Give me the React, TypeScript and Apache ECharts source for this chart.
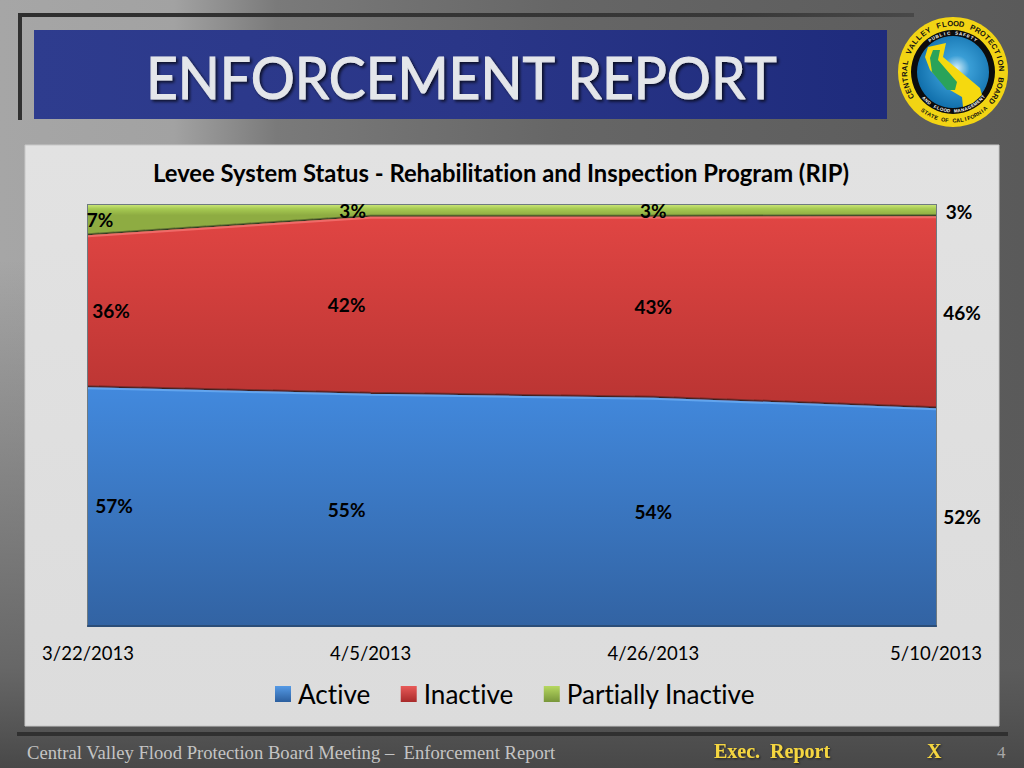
import React, { useEffect, useRef } from "react";
import * as echarts from "echarts";

const dates = ["3/22/2013", "4/5/2013", "4/26/2013", "5/10/2013"];
const active = [56.5, 54.9, 54.0, 51.5];
const inactive = [36.1, 42.1, 43.0, 45.6];
const partiallyInactive = [7.4, 3.0, 3.0, 2.9];

const activeLabelOffsets = [[26, 117], [-24, 115], [0, 113], [26, 107]];
const inactiveLabelOffsets = [[23, 74], [-24, 87], [0, 89], [26, 95]];
const partialLabelOffsets = [[12, 14], [-18, 5], [0, 5], [23, 6]];

const vGrad = (a: string, b: string) => ({
  type: "linear", x: 0, y: 0, x2: 0, y2: 1,
  colorStops: [{ offset: 0, color: a }, { offset: 1, color: b }],
});
const grad = (x: number, y: number, x2: number, y2: number, stops: [number, string][]) => ({
  type: "linear", x, y, x2, y2,
  colorStops: stops.map(([offset, color]) => ({ offset, color })),
});

const arcText = (text: string, cx: number, cy: number, r: number, startDeg: number, stepDeg: number, font: string, fill: string, bottom = false) =>
  text.split("").map((ch, i) => {
    const deg = startDeg + i * stepDeg;
    const a = (deg * Math.PI) / 180;
    return {
      type: "text",
      x: cx + r * Math.sin(a),
      y: cy - r * Math.cos(a),
      rotation: bottom ? -(a + Math.PI) : -a,
      z: 20,
      silent: true,
      style: { text: ch, font, fill, align: "center", verticalAlign: "middle" },
    };
  });

const californiaOutline = [[928, 47], [946, 43], [943, 57], [980, 88], [982, 95], [973, 103], [963, 107], [962, 97], [950, 90], [930, 70], [925, 57]];
const centralValley = [[933, 50], [940, 50], [938, 60], [957, 82], [955, 90], [947, 90], [932, 72], [930, 58]];

const yellowText = { fill: "#f5d640", verticalAlign: "middle", textShadowColor: "rgba(0,0,0,0.6)", textShadowBlur: 2, textShadowOffsetX: 1, textShadowOffsetY: 1 };

const buildGraphic = () => [
  { type: "rect", z: 0, silent: true, shape: { x: 0, y: 0, width: 1024, height: 768 },
    style: { fill: grad(0, 0, 1, 0, [[0, "#a6a6a6"], [0.17, "#a2a2a2"], [0.27, "#7a7a7a"], [0.55, "#666666"], [1, "#5a5a5a"]]) } },
  { type: "rect", z: 0, silent: true, shape: { x: 0, y: 260, width: 1024, height: 508 },
    style: { fill: grad(0, 0, 0, 1, [[0, "rgba(90,90,90,0)"], [0.8, "rgba(92,92,92,0.85)"], [1, "rgba(72,72,72,1)"]]) } },
  { type: "rect", z: 1, silent: true, shape: { x: 18, y: 13, width: 896, height: 4 },
    style: { fill: grad(0, 0, 1, 0, [[0, "#2e2e2e"], [0.8, "#383838"], [1, "#484848"]]) } },
  { type: "rect", z: 1, silent: true, shape: { x: 18, y: 13, width: 4, height: 107 }, style: { fill: "#303030" } },
  { type: "rect", z: 1, silent: true, shape: { x: 34, y: 30, width: 853, height: 89 },
    style: { fill: grad(0, 0, 1, 0, [[0, "#2e3c8e"], [0.5, "#2a3688"], [1, "#1e2b7c"]]) } },
  { type: "text", z: 2, silent: true, x: 146, y: 76, scaleX: 0.95,
    style: { text: "ENFORCEMENT REPORT", font: "58px Lato", fill: "#e4e6ea", stroke: "#e4e6ea", lineWidth: 1, verticalAlign: "middle",
      textShadowColor: "rgba(0,0,0,0.7)", textShadowBlur: 3, textShadowOffsetX: 2, textShadowOffsetY: 2 } },
  { type: "circle", z: 10, silent: true, shape: { cx: 953, cy: 72, r: 55 }, style: { fill: "#f2d414" } },
  { type: "circle", z: 11, silent: true, shape: { cx: 953, cy: 72, r: 42 }, style: { fill: "#0c0c0c" } },
  { type: "circle", z: 12, silent: true, shape: { cx: 953, cy: 72, r: 36 },
    style: { fill: { type: "radial", x: 0.55, y: 0.45, r: 0.6, colorStops: [{ offset: 0, color: "#d5eef8" }, { offset: 0.3, color: "#3a9ed6" }, { offset: 1, color: "#0d6ba8" }] } } },
  { type: "polygon", z: 13, silent: true, shape: { points: californiaOutline }, style: { fill: "#f5d90f" } },
  { type: "polygon", z: 14, silent: true, shape: { points: centralValley }, style: { fill: "#2aa35a" } },
  ...arcText("CENTRAL VALLEY FLOOD PROTECTION BOARD", 953, 72, 48.5, -120, 6.86, "bold 7.5px Liberation Sans", "#111111"),
  ...arcText("STATE OF CALIFORNIA", 953, 72, 48.5, 218, -4.4, "bold 5.5px Liberation Sans", "#111111", true),
  ...arcText("PUBLIC SAFETY", 953, 72, 39, -36, 5.9, "bold 4.5px Liberation Sans", "#ffffff"),
  ...arcText("AND FLOOD MANAGEMENT", 953, 72, 39, 228, -5.2, "bold 4.5px Liberation Sans", "#ffffff", true),
  { type: "rect", z: 1, silent: true, shape: { x: 25, y: 145, width: 974, height: 581 },
    style: { fill: grad(0, 0, 0, 1, [[0, "#e2e2e2"], [1, "#dcdcdc"]]), stroke: "#c8c8c8", lineWidth: 1 } },
  { type: "rect", z: 1, silent: true, shape: { x: 17, y: 732, width: 991, height: 4 }, style: { fill: "#303030" } },
  { type: "text", z: 2, silent: true, x: 27, y: 752,
    style: { text: "Central Valley Flood Protection Board Meeting –  Enforcement Report", font: "18.65px Liberation Serif", fill: "#c4c4c4", verticalAlign: "middle" } },
  { type: "text", z: 2, silent: true, x: 714, y: 751, style: { text: "Exec.  Report", font: "bold 20px Liberation Serif", ...yellowText } },
  { type: "text", z: 2, silent: true, x: 927, y: 751, style: { text: "X", font: "bold 20px Liberation Serif", ...yellowText } },
  { type: "text", z: 2, silent: true, x: 997, y: 752, style: { text: "4", font: "17px Liberation Serif", fill: "#a8a8a8", verticalAlign: "middle" } },
];

const makeSeries = (name: string, values: number[], fill: any, edge: string, z: number) => ({
  name,
  type: "line",
  stack: "total",
  z,
  data: values,
  symbol: "none",
  clip: false,
  lineStyle: { color: edge, width: 2, shadowColor: "rgba(30,20,20,0.8)", shadowBlur: 1, shadowOffsetY: -1.5 },
  areaStyle: { color: fill, opacity: 1 },
});

const makeLabels = (name: string, values: number[], offsets: number[][]) => ({
  name: `${name} labels`,
  type: "line",
  stack: "labels",
  z: 8,
  data: values.map((value, i) => ({ value, label: { offset: offsets[i] } })),
  symbol: "circle",
  symbolSize: 0,
  showSymbol: true,
  showAllSymbol: true,
  lineStyle: { width: 0, color: "transparent" },
  label: {
    show: true,
    position: "inside",
    color: "#000000",
    fontFamily: "Lato",
    fontWeight: "bold",
    fontSize: 19,
    formatter: (p: any) => `${Math.round(p.value)}%`,
  },
});

export default function App() {
  const ref = useRef<HTMLDivElement>(null);
  useEffect(() => {
    document.body.style.margin = "0";
    const chart = echarts.init(ref.current!, undefined, { renderer: "svg" });
    chart.setOption({
      animation: false,
      title: {
        text: "Levee System Status - Rehabilitation and Inspection Program (RIP)",
        left: 496, top: 156, textAlign: "center",
        textStyle: { fontFamily: "Lato", fontWeight: "bold", fontSize: 23.8, color: "#000000" },
      },
      grid: { left: 88, right: 88, top: 205, bottom: 142, z: 2, show: true, borderColor: "#6f7a80", borderWidth: 2, backgroundColor: "transparent" },
      xAxis: {
        type: "category", boundaryGap: false, data: dates, z: 6,
        axisTick: { show: false },
        axisLine: { show: true, lineStyle: { color: "#2b4d78", width: 2 } },
        axisLabel: { interval: 0, margin: 17, color: "#000000", fontFamily: "Lato", fontSize: 18.5 },
      },
      yAxis: { type: "value", min: 0, max: 100, show: false, splitLine: { show: false } },
      legend: {
        left: 275, top: 681, padding: 0, icon: "rect", itemWidth: 16, itemHeight: 16, itemGap: 30,
        textStyle: { fontFamily: "Lato", fontSize: 26.1, color: "#000000", padding: [0, 0, 0, 2] },
        data: [
          { name: "Active", itemStyle: { color: vGrad("#559ae6", "#2b5e9e") } },
          { name: "Inactive", itemStyle: { color: vGrad("#e85a58", "#a82a2a") } },
          { name: "Partially Inactive", itemStyle: { color: vGrad("#b6d860", "#78963a") } },
        ],
      },
      graphic: { elements: buildGraphic() },
      series: [
        makeSeries("Active", active, vGrad("#4289dd", "#3263a3"), "#62a5ee", 5),
        makeSeries("Inactive", inactive, vGrad("#e04543", "#b93432"), "#f06a68", 4),
        makeSeries("Partially Inactive", partiallyInactive,
          grad(0, 0, 0, 1, [[0, "#c8e474"], [0.12, "#a6ca52"], [0.33, "#8eac42"], [1, "#8eac42"]]), "#cbe77a", 3),
        makeLabels("Active", active, activeLabelOffsets),
        makeLabels("Inactive", inactive, inactiveLabelOffsets),
        makeLabels("Partially Inactive", partiallyInactive, partialLabelOffsets),
      ],
    });
    return () => chart.dispose();
  }, []);
  return <div ref={ref} style={{ width: 1024, height: 768, fontVariantLigatures: "none" }} />;
}
